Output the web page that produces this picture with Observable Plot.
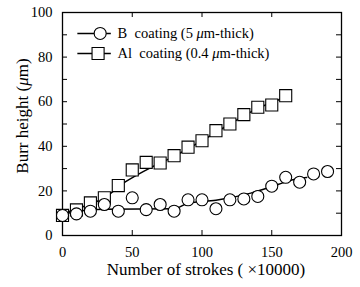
<!DOCTYPE html>
<html>
<head>
<meta charset="utf-8">
<script src="https://cdn.jsdelivr.net/npm/d3@7"></script>
<script src="https://cdn.jsdelivr.net/npm/@observablehq/plot@0.6"></script>
<style>
  html, body { margin: 0; padding: 0; background: #fff; }
  #chart { width: 360px; height: 287px; }
  svg text { font-family: "Liberation Serif", "DejaVu Serif", serif; }
  svg g[aria-label="x-axis tick label"] text,
  svg g[aria-label="y-axis tick label"] text { font-size: 14.5px; }
</style>
</head>
<body>
<div id="chart"></div>
<script>
// ---- data ----
const bStrokes = [0,10,20,30,40,50,60,70,80,90,100,110,120,130,140,150,160,170,180,190];
const bHeight  = [9,9.7,10.9,13.9,10.9,16.9,11.6,13.9,10.9,16,16,12,16,16.4,17.5,22.1,26.1,23.9,27.6,28.7];
const alStrokes = [0,10,20,30,40,50,60,70,80,90,100,110,120,130,140,150,160];
const alHeight  = [9,11.5,14.6,16.9,22.4,29.4,32.8,32.5,35.8,39.6,42.5,47,50,54.2,57.5,58.5,62.7];
// fitted curves as drawn in the reference
const bFitX = [0,20,30,80,90,110,135,155,165,175];
const bFitY = [9.5,11.5,11.8,12,14.5,15.8,19,23,25,26];
const alFitX = [0,10,20,30,45,65,80,100,120,140,160];
const alFitY = [9.5,12,14,17,24,31,35.5,42.5,50,57,62];
const legendLabels = ["B  coating (5 μm-thick)", "Al  coating (0.4 μm-thick)"];
const xTickValues = [0,50,100,150,200];
const yTickValues = [0,20,40,60,80,100];
const xMinor = [50,100,150];
const yMinor = [10,20,30,40,50,60,70,80,90];

const W = 360, H = 287;
const mL = 62, mR = 19, mT = 12, mB = 52;
const pw = W - mL - mR, ph = H - mT - mB;

const bData = bStrokes.map((x,i)=>({x, y:bHeight[i]}));
const alData = alStrokes.map((x,i)=>({x, y:alHeight[i]}));
const bFit = bFitX.map((x,i)=>({x, y:bFitY[i]}));
const alFit = alFitX.map((x,i)=>({x, y:alFitY[i]}));

const chart = Plot.plot({
  width: W, height: H,
  marginLeft: mL, marginRight: mR, marginTop: mT, marginBottom: mB,
  style: {fontFamily: "Liberation Serif, serif", fontSize: "14px", color: "#000", background: "#fff"},
  x: {domain: [0,200]},
  y: {domain: [0,100]},
  marks: [
    Plot.frame({stroke: "#000", strokeWidth: 1.3}),
    Plot.axisX({ticks: xTickValues, tickSize: 0, tickPadding: 11, label: null}),
    Plot.axisY({ticks: yTickValues, tickSize: 0, tickPadding: 10, label: null}),
    // inward ticks on all four sides
    Plot.tickY(yMinor, {y: d=>d, insetRight: pw-5, stroke: "#000"}),
    Plot.tickY(yMinor, {y: d=>d, insetLeft: pw-5, stroke: "#000"}),
    Plot.tickX(xMinor, {x: d=>d, insetTop: ph-5, stroke: "#000"}),
    Plot.tickX(xMinor, {x: d=>d, insetBottom: ph-5, stroke: "#000"}),
    // fitted lines
    Plot.line(alFit, {x:"x", y:"y", stroke:"#000", strokeWidth:1.5, curve:"monotone-x"}),
    Plot.line(bFit, {x:"x", y:"y", stroke:"#000", strokeWidth:1.5, curve:"monotone-x"}),
    // markers
    Plot.dot(alData, {x:"x", y:"y", symbol:"square", r:6.8, fill:"#fff", stroke:"#000", strokeWidth:1.1}),
    Plot.dot(bData, {x:"x", y:"y", symbol:"circle", r:6, fill:"#fff", stroke:"#000", strokeWidth:1.1}),
    // legend
    Plot.ruleY([90.6], {x1: 11, x2: 35, stroke:"#000", strokeWidth:1.5}),
    Plot.ruleY([81.6], {x1: 11, x2: 35, stroke:"#000", strokeWidth:1.5}),
    Plot.dot([0], {x: 27, y: 90.6, symbol:"circle", r:6, fill:"#fff", stroke:"#000", strokeWidth:1.1}),
    Plot.dot([0], {x: 25.5, y: 81.6, symbol:"square", r:6.8, fill:"#fff", stroke:"#000", strokeWidth:1.1}),
    Plot.text([legendLabels[0]], {x: 39.5, y: 90.6, text: d=>d, textAnchor:"start", fontSize: 14.5, fill:"#000"}),
    Plot.text([legendLabels[1]], {x: 39.5, y: 81.6, text: d=>d, textAnchor:"start", fontSize: 14.5, fill:"#000"}),
    // axis labels
    Plot.text(["Number of strokes ( ×10000)"], {frameAnchor:"bottom", lineAnchor:"middle", textAnchor:"middle", dy: 34, dx: 4, text:d=>d, fontSize: 17, fill:"#000"}),
    Plot.text(["Burr height (μm)"], {frameAnchor:"left", lineAnchor:"middle", textAnchor:"middle", dx: -40, dy: -8, rotate: -90, text:d=>d, fontSize: 17, fill:"#000"})
  ]
});

// italic mu
chart.querySelectorAll("text").forEach(t => {
  const tspans = t.querySelectorAll("tspan");
  const nodes = tspans.length ? tspans : [t];
  nodes.forEach(n => {
    if (n.children.length === 0 && n.textContent.includes("μ")) {
      const parts = n.textContent.split("μ");
      n.textContent = "";
      parts.forEach((p,i) => {
        if (i > 0) {
          const s = document.createElementNS("http://www.w3.org/2000/svg","tspan");
          s.setAttribute("font-style","italic");
          s.textContent = "μ";
          n.appendChild(s);
        }
        n.appendChild(document.createTextNode(p));
      });
    }
  });
});

document.getElementById("chart").appendChild(chart);
</script>
</body>
</html>
